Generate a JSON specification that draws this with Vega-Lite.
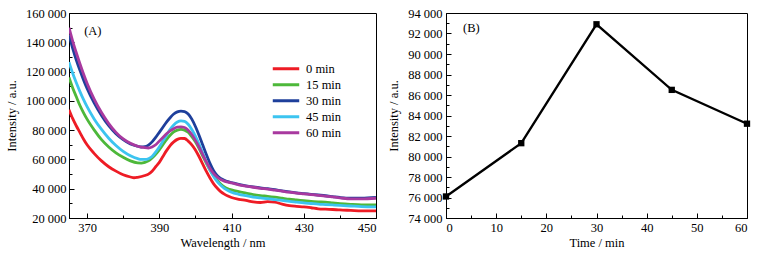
{
  "$schema": "https://vega.github.io/schema/vega-lite/v6.json",
  "padding": {"left": 4, "top": 6, "right": 15, "bottom": 2},
  "spacing": 10,
  "config": {
    "font": "Times New Roman, Liberation Serif, serif",
    "view": {"stroke": "black", "strokeWidth": 1},
    "text": {"font": "Times New Roman, Liberation Serif, serif"},
    "axis": {
      "labelFont": "Times New Roman, Liberation Serif, serif", "labelFontSize": 12.5, "labelColor": "black",
      "titleFont": "Times New Roman, Liberation Serif, serif", "titleFontSize": 12.5, "titleFontWeight": "normal", "titleColor": "black",
      "domainColor": "black", "tickColor": "black", "grid": false, "domainWidth": 1, "tickWidth": 1
    },
    "legend": {"labelFont": "Times New Roman, Liberation Serif, serif"}
  },
  "datasets": {
    "spectra": [
      {"series":"0 min","wavelength":365,"intensity":94000},{"series":"0 min","wavelength":366,"intensity":88000},{"series":"0 min","wavelength":367,"intensity":83000},{"series":"0 min","wavelength":368,"intensity":78500},{"series":"0 min","wavelength":369,"intensity":74000},{"series":"0 min","wavelength":370,"intensity":70000},{"series":"0 min","wavelength":372,"intensity":64000},{"series":"0 min","wavelength":374,"intensity":59000},{"series":"0 min","wavelength":376,"intensity":55000},{"series":"0 min","wavelength":378,"intensity":52000},{"series":"0 min","wavelength":380,"intensity":49500},{"series":"0 min","wavelength":382,"intensity":48000},{"series":"0 min","wavelength":383,"intensity":47500},{"series":"0 min","wavelength":384,"intensity":47800},{"series":"0 min","wavelength":386,"intensity":49000},{"series":"0 min","wavelength":387,"intensity":50000},{"series":"0 min","wavelength":388,"intensity":52000},{"series":"0 min","wavelength":389,"intensity":55000},{"series":"0 min","wavelength":390,"intensity":58000},{"series":"0 min","wavelength":391,"intensity":62000},{"series":"0 min","wavelength":392,"intensity":66000},{"series":"0 min","wavelength":393,"intensity":69500},{"series":"0 min","wavelength":394,"intensity":72000},{"series":"0 min","wavelength":395,"intensity":73700},{"series":"0 min","wavelength":396,"intensity":74400},{"series":"0 min","wavelength":397,"intensity":74300},{"series":"0 min","wavelength":398,"intensity":72500},{"series":"0 min","wavelength":399,"intensity":70000},{"series":"0 min","wavelength":400,"intensity":66500},{"series":"0 min","wavelength":401,"intensity":62000},{"series":"0 min","wavelength":402,"intensity":57000},{"series":"0 min","wavelength":403,"intensity":52000},{"series":"0 min","wavelength":404,"intensity":47500},{"series":"0 min","wavelength":405,"intensity":43500},{"series":"0 min","wavelength":406,"intensity":40500},{"series":"0 min","wavelength":407,"intensity":38000},{"series":"0 min","wavelength":408,"intensity":36300},{"series":"0 min","wavelength":409,"intensity":35000},{"series":"0 min","wavelength":410,"intensity":34000},{"series":"0 min","wavelength":412,"intensity":32800},{"series":"0 min","wavelength":414,"intensity":32000},{"series":"0 min","wavelength":416,"intensity":31000},{"series":"0 min","wavelength":418,"intensity":30600},{"series":"0 min","wavelength":420,"intensity":31200},{"series":"0 min","wavelength":422,"intensity":30800},{"series":"0 min","wavelength":424,"intensity":29500},{"series":"0 min","wavelength":426,"intensity":28500},{"series":"0 min","wavelength":428,"intensity":28000},{"series":"0 min","wavelength":430,"intensity":27600},{"series":"0 min","wavelength":432,"intensity":27000},{"series":"0 min","wavelength":434,"intensity":26300},{"series":"0 min","wavelength":436,"intensity":26000},{"series":"0 min","wavelength":438,"intensity":25800},{"series":"0 min","wavelength":440,"intensity":25500},{"series":"0 min","wavelength":443,"intensity":25200},{"series":"0 min","wavelength":446,"intensity":24900},{"series":"0 min","wavelength":450,"intensity":24800},
      {"series":"15 min","wavelength":365,"intensity":116000},{"series":"15 min","wavelength":366,"intensity":109000},{"series":"15 min","wavelength":367,"intensity":103000},{"series":"15 min","wavelength":368,"intensity":97000},{"series":"15 min","wavelength":369,"intensity":92000},{"series":"15 min","wavelength":370,"intensity":87500},{"series":"15 min","wavelength":372,"intensity":80000},{"series":"15 min","wavelength":374,"intensity":73500},{"series":"15 min","wavelength":376,"intensity":68500},{"series":"15 min","wavelength":378,"intensity":64500},{"series":"15 min","wavelength":380,"intensity":61500},{"series":"15 min","wavelength":382,"intensity":59000},{"series":"15 min","wavelength":384,"intensity":57600},{"series":"15 min","wavelength":385,"intensity":57500},{"series":"15 min","wavelength":386,"intensity":58000},{"series":"15 min","wavelength":387,"intensity":59000},{"series":"15 min","wavelength":388,"intensity":61000},{"series":"15 min","wavelength":389,"intensity":63500},{"series":"15 min","wavelength":390,"intensity":66500},{"series":"15 min","wavelength":391,"intensity":70000},{"series":"15 min","wavelength":392,"intensity":73500},{"series":"15 min","wavelength":393,"intensity":76500},{"series":"15 min","wavelength":394,"intensity":78800},{"series":"15 min","wavelength":395,"intensity":80000},{"series":"15 min","wavelength":396,"intensity":80500},{"series":"15 min","wavelength":397,"intensity":80000},{"series":"15 min","wavelength":398,"intensity":78500},{"series":"15 min","wavelength":399,"intensity":75500},{"series":"15 min","wavelength":400,"intensity":72000},{"series":"15 min","wavelength":401,"intensity":67500},{"series":"15 min","wavelength":402,"intensity":62500},{"series":"15 min","wavelength":403,"intensity":57500},{"series":"15 min","wavelength":404,"intensity":53000},{"series":"15 min","wavelength":405,"intensity":49000},{"series":"15 min","wavelength":406,"intensity":45800},{"series":"15 min","wavelength":407,"intensity":43200},{"series":"15 min","wavelength":408,"intensity":41300},{"series":"15 min","wavelength":409,"intensity":40000},{"series":"15 min","wavelength":410,"intensity":39200},{"series":"15 min","wavelength":412,"intensity":38000},{"series":"15 min","wavelength":414,"intensity":37000},{"series":"15 min","wavelength":416,"intensity":36000},{"series":"15 min","wavelength":418,"intensity":35300},{"series":"15 min","wavelength":420,"intensity":34800},{"series":"15 min","wavelength":422,"intensity":34200},{"series":"15 min","wavelength":424,"intensity":33500},{"series":"15 min","wavelength":426,"intensity":32800},{"series":"15 min","wavelength":428,"intensity":32300},{"series":"15 min","wavelength":430,"intensity":31800},{"series":"15 min","wavelength":432,"intensity":31300},{"series":"15 min","wavelength":434,"intensity":31000},{"series":"15 min","wavelength":436,"intensity":30800},{"series":"15 min","wavelength":438,"intensity":30300},{"series":"15 min","wavelength":440,"intensity":29800},{"series":"15 min","wavelength":443,"intensity":29300},{"series":"15 min","wavelength":446,"intensity":29000},{"series":"15 min","wavelength":450,"intensity":29000},
      {"series":"30 min","wavelength":365,"intensity":145000},{"series":"30 min","wavelength":366,"intensity":136000},{"series":"30 min","wavelength":367,"intensity":128000},{"series":"30 min","wavelength":368,"intensity":121000},{"series":"30 min","wavelength":369,"intensity":114500},{"series":"30 min","wavelength":370,"intensity":108500},{"series":"30 min","wavelength":372,"intensity":98500},{"series":"30 min","wavelength":374,"intensity":90000},{"series":"30 min","wavelength":376,"intensity":83000},{"series":"30 min","wavelength":378,"intensity":77500},{"series":"30 min","wavelength":380,"intensity":73500},{"series":"30 min","wavelength":382,"intensity":70500},{"series":"30 min","wavelength":384,"intensity":69000},{"series":"30 min","wavelength":385,"intensity":68500},{"series":"30 min","wavelength":386,"intensity":68700},{"series":"30 min","wavelength":387,"intensity":69800},{"series":"30 min","wavelength":388,"intensity":72000},{"series":"30 min","wavelength":389,"intensity":75000},{"series":"30 min","wavelength":390,"intensity":78500},{"series":"30 min","wavelength":391,"intensity":82000},{"series":"30 min","wavelength":392,"intensity":85500},{"series":"30 min","wavelength":393,"intensity":88500},{"series":"30 min","wavelength":394,"intensity":91000},{"series":"30 min","wavelength":395,"intensity":92500},{"series":"30 min","wavelength":396,"intensity":93000},{"series":"30 min","wavelength":397,"intensity":92700},{"series":"30 min","wavelength":398,"intensity":91000},{"series":"30 min","wavelength":399,"intensity":87500},{"series":"30 min","wavelength":400,"intensity":82500},{"series":"30 min","wavelength":401,"intensity":76500},{"series":"30 min","wavelength":402,"intensity":70000},{"series":"30 min","wavelength":403,"intensity":63500},{"series":"30 min","wavelength":404,"intensity":57500},{"series":"30 min","wavelength":405,"intensity":52500},{"series":"30 min","wavelength":406,"intensity":49000},{"series":"30 min","wavelength":407,"intensity":47000},{"series":"30 min","wavelength":408,"intensity":45700},{"series":"30 min","wavelength":409,"intensity":44800},{"series":"30 min","wavelength":410,"intensity":44200},{"series":"30 min","wavelength":412,"intensity":43000},{"series":"30 min","wavelength":414,"intensity":42000},{"series":"30 min","wavelength":416,"intensity":41200},{"series":"30 min","wavelength":418,"intensity":40500},{"series":"30 min","wavelength":420,"intensity":40000},{"series":"30 min","wavelength":422,"intensity":39300},{"series":"30 min","wavelength":424,"intensity":38500},{"series":"30 min","wavelength":426,"intensity":37800},{"series":"30 min","wavelength":428,"intensity":37200},{"series":"30 min","wavelength":430,"intensity":36700},{"series":"30 min","wavelength":432,"intensity":36200},{"series":"30 min","wavelength":434,"intensity":35700},{"series":"30 min","wavelength":436,"intensity":35200},{"series":"30 min","wavelength":438,"intensity":34600},{"series":"30 min","wavelength":440,"intensity":34000},{"series":"30 min","wavelength":443,"intensity":33500},{"series":"30 min","wavelength":446,"intensity":33500},{"series":"30 min","wavelength":450,"intensity":34000},
      {"series":"45 min","wavelength":365,"intensity":126500},{"series":"45 min","wavelength":366,"intensity":119000},{"series":"45 min","wavelength":367,"intensity":112500},{"series":"45 min","wavelength":368,"intensity":106500},{"series":"45 min","wavelength":369,"intensity":101000},{"series":"45 min","wavelength":370,"intensity":96000},{"series":"45 min","wavelength":372,"intensity":87500},{"series":"45 min","wavelength":374,"intensity":80500},{"series":"45 min","wavelength":376,"intensity":74500},{"series":"45 min","wavelength":378,"intensity":69500},{"series":"45 min","wavelength":380,"intensity":65500},{"series":"45 min","wavelength":382,"intensity":62500},{"series":"45 min","wavelength":384,"intensity":60500},{"series":"45 min","wavelength":385,"intensity":60000},{"series":"45 min","wavelength":386,"intensity":60000},{"series":"45 min","wavelength":387,"intensity":60500},{"series":"45 min","wavelength":388,"intensity":62000},{"series":"45 min","wavelength":389,"intensity":65000},{"series":"45 min","wavelength":390,"intensity":68500},{"series":"45 min","wavelength":391,"intensity":72500},{"series":"45 min","wavelength":392,"intensity":76500},{"series":"45 min","wavelength":393,"intensity":80500},{"series":"45 min","wavelength":394,"intensity":83500},{"series":"45 min","wavelength":395,"intensity":85500},{"series":"45 min","wavelength":396,"intensity":86300},{"series":"45 min","wavelength":397,"intensity":86000},{"series":"45 min","wavelength":398,"intensity":84000},{"series":"45 min","wavelength":399,"intensity":80500},{"series":"45 min","wavelength":400,"intensity":76000},{"series":"45 min","wavelength":401,"intensity":70500},{"series":"45 min","wavelength":402,"intensity":64500},{"series":"45 min","wavelength":403,"intensity":58500},{"series":"45 min","wavelength":404,"intensity":53000},{"series":"45 min","wavelength":405,"intensity":48500},{"series":"45 min","wavelength":406,"intensity":45000},{"series":"45 min","wavelength":407,"intensity":42300},{"series":"45 min","wavelength":408,"intensity":40300},{"series":"45 min","wavelength":409,"intensity":38800},{"series":"45 min","wavelength":410,"intensity":37600},{"series":"45 min","wavelength":412,"intensity":36200},{"series":"45 min","wavelength":414,"intensity":35200},{"series":"45 min","wavelength":416,"intensity":34300},{"series":"45 min","wavelength":418,"intensity":33700},{"series":"45 min","wavelength":420,"intensity":33200},{"series":"45 min","wavelength":422,"intensity":32600},{"series":"45 min","wavelength":424,"intensity":32000},{"series":"45 min","wavelength":426,"intensity":31300},{"series":"45 min","wavelength":428,"intensity":30800},{"series":"45 min","wavelength":430,"intensity":30300},{"series":"45 min","wavelength":432,"intensity":29900},{"series":"45 min","wavelength":434,"intensity":29500},{"series":"45 min","wavelength":436,"intensity":29200},{"series":"45 min","wavelength":438,"intensity":28900},{"series":"45 min","wavelength":440,"intensity":28600},{"series":"45 min","wavelength":443,"intensity":28200},{"series":"45 min","wavelength":446,"intensity":27800},{"series":"45 min","wavelength":450,"intensity":27600},
      {"series":"60 min","wavelength":365,"intensity":150000},{"series":"60 min","wavelength":366,"intensity":141000},{"series":"60 min","wavelength":367,"intensity":133000},{"series":"60 min","wavelength":368,"intensity":125500},{"series":"60 min","wavelength":369,"intensity":118500},{"series":"60 min","wavelength":370,"intensity":112000},{"series":"60 min","wavelength":372,"intensity":101000},{"series":"60 min","wavelength":374,"intensity":92000},{"series":"60 min","wavelength":376,"intensity":84500},{"series":"60 min","wavelength":378,"intensity":78500},{"series":"60 min","wavelength":380,"intensity":74000},{"series":"60 min","wavelength":382,"intensity":71000},{"series":"60 min","wavelength":384,"intensity":69000},{"series":"60 min","wavelength":386,"intensity":68000},{"series":"60 min","wavelength":387,"intensity":67800},{"series":"60 min","wavelength":388,"intensity":68500},{"series":"60 min","wavelength":389,"intensity":70000},{"series":"60 min","wavelength":390,"intensity":72500},{"series":"60 min","wavelength":391,"intensity":75000},{"series":"60 min","wavelength":392,"intensity":77500},{"series":"60 min","wavelength":393,"intensity":79500},{"series":"60 min","wavelength":394,"intensity":81000},{"series":"60 min","wavelength":395,"intensity":82000},{"series":"60 min","wavelength":396,"intensity":82200},{"series":"60 min","wavelength":397,"intensity":81800},{"series":"60 min","wavelength":398,"intensity":80000},{"series":"60 min","wavelength":399,"intensity":77000},{"series":"60 min","wavelength":400,"intensity":73000},{"series":"60 min","wavelength":401,"intensity":68500},{"series":"60 min","wavelength":402,"intensity":63500},{"series":"60 min","wavelength":403,"intensity":58500},{"series":"60 min","wavelength":404,"intensity":54000},{"series":"60 min","wavelength":405,"intensity":50500},{"series":"60 min","wavelength":406,"intensity":48000},{"series":"60 min","wavelength":407,"intensity":46300},{"series":"60 min","wavelength":408,"intensity":45200},{"series":"60 min","wavelength":409,"intensity":44500},{"series":"60 min","wavelength":410,"intensity":44000},{"series":"60 min","wavelength":412,"intensity":42700},{"series":"60 min","wavelength":414,"intensity":41800},{"series":"60 min","wavelength":416,"intensity":41000},{"series":"60 min","wavelength":418,"intensity":40300},{"series":"60 min","wavelength":420,"intensity":39700},{"series":"60 min","wavelength":422,"intensity":39000},{"series":"60 min","wavelength":424,"intensity":38300},{"series":"60 min","wavelength":426,"intensity":37600},{"series":"60 min","wavelength":428,"intensity":37000},{"series":"60 min","wavelength":430,"intensity":36500},{"series":"60 min","wavelength":432,"intensity":36000},{"series":"60 min","wavelength":434,"intensity":35500},{"series":"60 min","wavelength":436,"intensity":35000},{"series":"60 min","wavelength":438,"intensity":34400},{"series":"60 min","wavelength":440,"intensity":33800},{"series":"60 min","wavelength":443,"intensity":33000},{"series":"60 min","wavelength":446,"intensity":33000},{"series":"60 min","wavelength":450,"intensity":33500}
    ],
    "kinetics": [
      {"time":0,"intensity":76100},{"time":15,"intensity":81300},{"time":30,"intensity":92900},{"time":45,"intensity":86500},{"time":60,"intensity":83200}
    ]
  },
  "hconcat": [
    {
      "width": 307, "height": 205,
      "data": {"name": "spectra"},
      "layer": [
        {
          "mark": {"type": "line", "strokeWidth": 2.8, "interpolate": "monotone", "clip": true},
          "encoding": {
            "x": {"field": "wavelength", "type": "quantitative", "scale": {"domain": [365, 450], "nice": false, "zero": false},
                  "axis": {"orient": "bottom", "title": "Wavelength / nm", "values": [370, 390, 410, 430, 450], "tickSize": -5, "labelPadding": 8, "titlePadding": 3}},
            "y": {"field": "intensity", "type": "quantitative", "scale": {"domain": [20000, 160000], "nice": false, "zero": false},
                  "axis": {"orient": "left", "title": "Intensity / a.u.", "values": [20000, 40000, 60000, 80000, 100000, 120000, 140000, 160000], "tickSize": -5, "labelPadding": 8, "titlePadding": 7,
                           "labelExpr": "replace(format(datum.value, ','), ',', ' ')"}},
            "color": {"field": "series", "type": "nominal",
                      "scale": {"domain": ["0 min", "15 min", "30 min", "45 min", "60 min"], "range": ["#ee1c25", "#4db83a", "#1e3f9b", "#3cc4f0", "#a8399f"]},
                      "legend": {"title": null, "orient": "none", "legendX": 202, "legendY": 48, "symbolType": "stroke", "symbolStrokeWidth": 3, "symbolSize": 700, "clipHeight": 15.7, "labelFont": "Times New Roman, Liberation Serif, serif", "labelFontSize": 12.5, "labelColor": "black", "rowPadding": 0, "labelOffset": 5}}
          }
        },
        {
          "mark": {"type": "line", "opacity": 0},
          "encoding": {
            "x": {"field": "wavelength", "type": "quantitative", "scale": {"domain": [365, 450], "nice": false, "zero": false},
                  "axis": {"orient": "bottom", "title": null, "labels": false, "domain": false, "values": [370, 380, 390, 400, 410, 420, 430, 440, 450], "tickSize": -3}},
            "y": {"field": "intensity", "type": "quantitative", "scale": {"domain": [20000, 160000], "nice": false, "zero": false},
                  "axis": {"orient": "left", "title": null, "labels": false, "domain": false, "values": [30000, 50000, 70000, 90000, 110000, 130000, 150000], "tickSize": -3}}
          }
        },
        {
          "data": {"values": [{"label": "(A)", "x": 369.2, "y": 147500}]},
          "mark": {"type": "text", "align": "left", "baseline": "middle", "font": "Times New Roman, Liberation Serif, serif", "fontSize": 12.5, "color": "black"},
          "encoding": {
            "x": {"field": "x", "type": "quantitative", "axis": null},
            "y": {"field": "y", "type": "quantitative", "axis": null},
            "text": {"field": "label"}
          }
        }
      ],
      "resolve": {"axis": {"x": "independent", "y": "independent"}}
    },
    {
      "width": 301, "height": 205,
      "data": {"name": "kinetics"},
      "layer": [
        {
          "mark": {"type": "line", "strokeWidth": 2.3, "color": "black", "point": {"shape": "square", "size": 40, "filled": true, "color": "black"}},
          "encoding": {
            "x": {"field": "time", "type": "quantitative", "scale": {"domain": [0, 60], "nice": false},
                  "axis": {"orient": "bottom", "title": "Time / min", "values": [0, 10, 20, 30, 40, 50, 60], "tickSize": -5, "labelPadding": 8, "titlePadding": 3}},
            "y": {"field": "intensity", "type": "quantitative", "scale": {"domain": [74000, 94000], "nice": false, "zero": false},
                  "axis": {"orient": "left", "title": "Intensity / a.u.", "values": [74000, 76000, 78000, 80000, 82000, 84000, 86000, 88000, 90000, 92000, 94000], "tickSize": -5, "labelPadding": 9, "titlePadding": 7,
                           "labelExpr": "replace(format(datum.value, ','), ',', ' ')"}}
          }
        },
        {
          "mark": {"type": "line", "opacity": 0},
          "encoding": {
            "x": {"field": "time", "type": "quantitative", "scale": {"domain": [0, 60], "nice": false},
                  "axis": {"orient": "bottom", "title": null, "labels": false, "domain": false, "values": [5, 15, 25, 35, 45, 55], "tickSize": -3}},
            "y": {"field": "intensity", "type": "quantitative", "scale": {"domain": [74000, 94000], "nice": false, "zero": false},
                  "axis": {"orient": "left", "title": null, "labels": false, "domain": false, "values": [75000, 77000, 79000, 81000, 83000, 85000, 87000, 89000, 91000, 93000], "tickSize": -3}}
          }
        },
        {
          "data": {"values": [{"label": "(B)", "x": 3.4, "y": 92540}]},
          "mark": {"type": "text", "align": "left", "baseline": "middle", "font": "Times New Roman, Liberation Serif, serif", "fontSize": 12.5, "color": "black"},
          "encoding": {
            "x": {"field": "x", "type": "quantitative", "axis": null},
            "y": {"field": "y", "type": "quantitative", "axis": null},
            "text": {"field": "label"}
          }
        }
      ],
      "resolve": {"axis": {"x": "independent", "y": "independent"}}
    }
  ]
}
